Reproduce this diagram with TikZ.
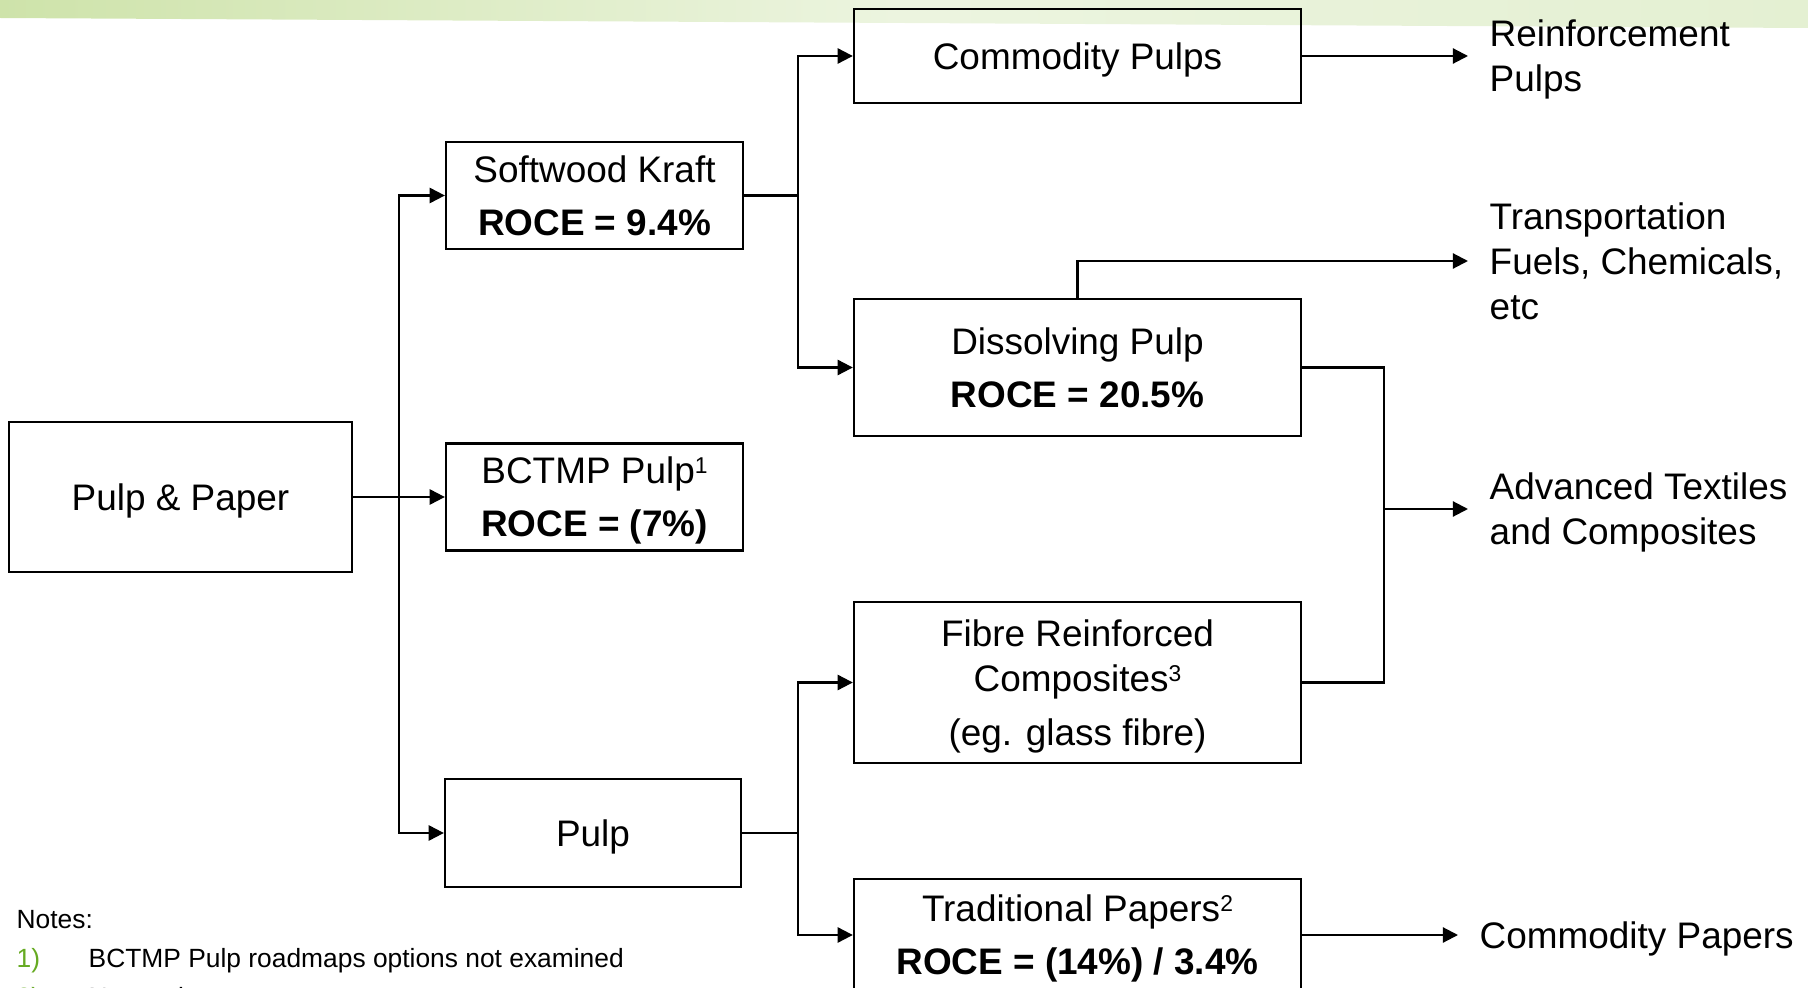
\documentclass[tikz,border=0pt]{standalone}
\usepackage{fontspec}
\setmainfont{Liberation Sans}
\usetikzlibrary{arrows.meta}
\definecolor{bandgreen}{RGB}{206,227,170}
\definecolor{bandlight}{RGB}{228,240,210}
\definecolor{notegreen}{RGB}{102,170,34}
\newcommand{\supmark}[1]{\raisebox{2.8pt}{\fontsize{6.5}{6.5}\selectfont #1}}

\begin{document}
\begin{tikzpicture}[x=0.01cm, y=-0.01cm,
    box/.style={draw, line width=0.6pt, align=center, inner sep=0pt, font=\fontsize{10.5}{12.8}\selectfont},
    flat/.style={text depth=0pt},
    link/.style={line width=0.6pt},
    feed/.style={line width=0.6pt, -{Triangle[length=4.3pt, width=4.3pt]}},
    outtext/.style={anchor=west, align=left, text depth=0pt, inner ysep=0pt, inner xsep=0.21cm, font=\fontsize{10.5}{12.8}\selectfont},
    notetext/.style={anchor=west, text depth=0pt, inner sep=0pt, font=\fontsize{7.5}{9}\selectfont}]

    \clip (0,0) rectangle (1808,988);

    % Green band along the top
    \shade[left color=bandgreen, right color=bandlight, middle color=bandlight!70!white]
        (0,0) -- (1808,0) -- (1808,28) -- (0,18) -- cycle;

    % Boxes
    \node[box, flat, minimum width=3.43cm, minimum height=1.50cm] (pp) at (180.5,497) {Pulp \& Paper};
    \node[box, minimum width=2.97cm, minimum height=1.07cm] (sk) at (594.5,195.5) {Softwood Kraft\\[2.3pt]\textbf{ROCE = 9.4\%}};
    \node[box, flat, minimum width=2.97cm, minimum height=1.07cm] (bc) at (594.5,497) {BCTMP Pulp\supmark{1}\\[2.3pt]\textbf{ROCE = (7\%)}};
    \node[box, flat, minimum width=2.96cm, minimum height=1.08cm] (pu) at (593,833) {Pulp};
    \node[box, flat, minimum width=4.47cm, minimum height=0.94cm] (cp) at (1077.5,56) {Commodity Pulps};
    \node[box, minimum width=4.47cm, minimum height=1.37cm] (dp) at (1077.5,367.5) {Dissolving Pulp\\[2.3pt]\textbf{ROCE = 20.5\%}};
    \node[box, flat, minimum width=4.47cm, minimum height=1.61cm] (fr) at (1077.5,682.5) {Fibre Reinforced\\Composites\supmark{3}\\[2.5pt](eg. glass fibre)};
    \node[box, flat, minimum width=4.47cm, minimum height=1.12cm] (tp) at (1077.5,935) {Traditional Papers\supmark{2}\\[2.3pt]\textbf{ROCE = (14\%) / 3.4\%}};

    % End uses
    \node[outtext] (reinf) at (1468,56) {Reinforcement\\Pulps};
    \node[outtext] (trans) at (1468,261) {Transportation\\Fuels, Chemicals,\\etc};
    \node[outtext] (adv) at (1468,509) {Advanced Textiles\\and Composites};
    \node[outtext] (cpap) at (1458,935) {Commodity Papers};

    % Junctions
    \coordinate (j1) at (399,497);
    \coordinate (j2) at (798,195.5);
    \coordinate (j3) at (798,833);
    \coordinate (j4) at (1384,367.5);

    % Connectors
    \draw[feed] (pp.east) -- (bc.west);
    \draw[feed] (j1) |- (sk.west);
    \draw[feed] (j1) |- (pu.west);
    \draw[link] (sk.east) -- (j2);
    \draw[feed] (j2) |- (cp.west);
    \draw[feed] (j2) |- (dp.west);
    \draw[link] (pu.east) -- (j3);
    \draw[feed] (j3) |- (fr.west);
    \draw[feed] (j3) |- (tp.west);
    \draw[feed] (cp.east) -- (reinf.west);
    \draw[feed] (dp.north) |- (trans.west);
    \draw[link] (dp.east) -- (j4) |- (fr.east);
    \draw[feed] (j4 |- adv.west) -- (adv.west);
    \draw[feed] (tp.east) -- (cpap.west);

    % Notes
    \node[notetext] (notes) at (16,919) {Notes:};
    \foreach \n/\y/\txt in {1/958/BCTMP Pulp roadmaps options not examined, 2/997/Newsprint / LWC} {
        \node[notetext, text=notegreen] (num\n) at (16,\y) {\n)};
        \node[notetext] (note\n) at (88,\y) {\txt};
    }
\end{tikzpicture}
\end{document}
